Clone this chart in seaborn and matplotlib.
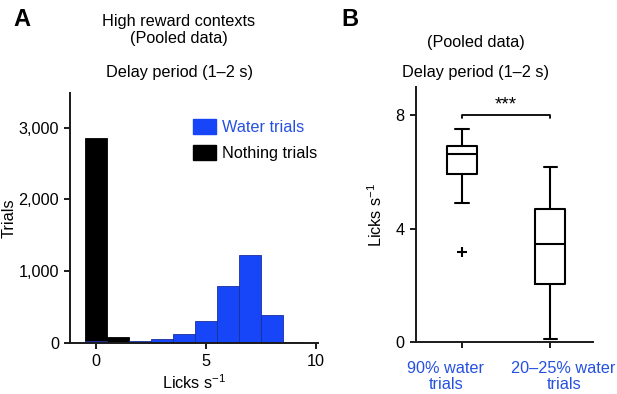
import numpy as np
import pandas as pd
import matplotlib.pyplot as plt
from matplotlib.patches import Patch
import seaborn as sns

# histogram counts per 1 lick/s bin (bin centers 0..9)
bin_centers = [0, 1, 2, 3, 4, 5, 6, 7, 8, 9]
water_counts = [25, 20, 25, 50, 125, 310, 800, 1230, 390, 15]
nothing_counts = [2850, 90, 8, 0, 0, 0, 0, 0, 0, 0]

# box plot summary stats (licks/s)
groups = ['90% water\ntrials', '20\u201325% water\ntrials']
whislo = [4.91, 0.1]
q1 = [5.92, 2.03]
medians = [6.63, 3.46]
q3 = [6.92, 4.69]
whishi = [7.53, 6.19]
fliers = [[3.16], []]

BLUE = '#1646f7'
LABEL_BLUE = '#2550e0'
FS = 11.7

sns.set_style('ticks')
plt.rcParams['font.family'] = ['Liberation Sans', 'DejaVu Sans']
plt.rcParams['mathtext.default'] = 'regular'
plt.rcParams['font.size'] = FS
for key in ('text.color', 'axes.labelcolor', 'xtick.color', 'ytick.color'):
    plt.rcParams[key] = 'black'

fig = plt.figure(figsize=(6.17, 3.94), dpi=100)
ax1 = fig.add_axes([0.1135, 0.1294, 0.4015, 0.6345])
ax2 = fig.add_axes([0.674, 0.132, 0.287, 0.647])

# ---- panel A: histogram
hist_df = pd.DataFrame({'licks': bin_centers, 'water': water_counts,
                        'nothing': nothing_counts})
sns.histplot(data=hist_df, x='licks', weights='nothing', discrete=True,
             color='black', alpha=1, edgecolor='black', linewidth=0.6, ax=ax1)
sns.histplot(data=hist_df, x='licks', weights='water', discrete=True,
             color=BLUE, alpha=1, edgecolor='#1a2f9a', linewidth=0.6, ax=ax1)
ax1.set_xlim(-1.2, 10.1)
ax1.set_ylim(0, 3480)
ax1.set_xticks([0, 5, 10])
ax1.set_yticks([0, 1000, 2000, 3000])
ax1.set_yticklabels(['0', '1,000', '2,000', '3,000'])
ax1.set_xlabel(r'Licks s$^{-1}$', labelpad=3)
ax1.set_ylabel('Trials', labelpad=1)
handles = [Patch(color=BLUE), Patch(color='black')]
leg = ax1.legend(handles, ['Water trials', 'Nothing trials'], frameon=False,
                 loc='upper left', bbox_to_anchor=(0.439, 0.955),
                 handlelength=1.4, handleheight=1.05, handletextpad=0.37,
                 labelspacing=0.62, fontsize=FS)
leg.get_texts()[0].set_color(LABEL_BLUE)

# ---- panel B: box plot
stats = []
for i in range(len(groups)):
    stats.append(dict(whislo=whislo[i], q1=q1[i], med=medians[i], q3=q3[i],
                      whishi=whishi[i], fliers=fliers[i]))
ax2.bxp(stats, positions=[0, 1], widths=0.34, showfliers=True,
        boxprops=dict(color='black', linewidth=1.5),
        whiskerprops=dict(color='black', linewidth=1.5),
        capprops=dict(color='black', linewidth=1.5),
        medianprops=dict(color='black', linewidth=1.5),
        flierprops=dict(marker='+', markersize=7, markeredgecolor='black',
                        markeredgewidth=1.5),
        capwidths=0.15)
ax2.plot([0, 0, 1, 1], [7.92, 8.0, 8.0, 7.92], color='black', linewidth=1.3)
ax2.text(0.5, 8.36, '***', ha='center', va='center', fontsize=13.5)
ax2.set_xlim(-0.52, 1.48)
ax2.set_ylim(0, 9)
ax2.set_yticks([0, 4, 8])
ax2.set_xticks([0, 1])
ax2.set_xticklabels(['', ''])
# category labels sit a bit outward of their ticks in the original
for i, (name, dx) in enumerate(zip(groups, [-11.5, 9.5])):
    ax2.annotate(name, xy=(i, 0), xycoords=('data', 'axes fraction'),
                 xytext=(dx, -13.5), textcoords='offset points',
                 ha='center', va='top', color=LABEL_BLUE, fontsize=FS,
                 linespacing=1.1, annotation_clip=False)
ax2.set_ylabel(r'Licks s$^{-1}$', labelpad=8)

for ax in (ax1, ax2):
    sns.despine(ax=ax)
    for s in ('left', 'bottom'):
        ax.spines[s].set_linewidth(1.4)
        ax.spines[s].set_color('#1a1a1a')
    ax.tick_params(width=1.4, length=4.5, color='#1a1a1a', labelsize=FS)

fig.text(179 / 617, 1 - 30 / 394, 'High reward contexts\n(Pooled data)',
         ha='center', va='center', fontsize=FS, linespacing=1.2)
fig.text(179 / 617, 1 - 72 / 394, 'Delay period (1\u20132 s)',
         ha='center', va='center', fontsize=FS)
fig.text(476 / 617, 1 - 43 / 394, '(Pooled data)', ha='center', va='center',
         fontsize=FS)
fig.text(476 / 617, 1 - 72 / 394, 'Delay period (1\u20132 s)',
         ha='center', va='center', fontsize=FS)
fig.text(22 / 617, 1 - 19 / 394, 'A', ha='center', va='center', fontsize=17,
         fontweight='bold')
fig.text(350 / 617, 1 - 19 / 394, 'B', ha='center', va='center', fontsize=17,
         fontweight='bold')

fig.savefig('out.png', dpi=100)
